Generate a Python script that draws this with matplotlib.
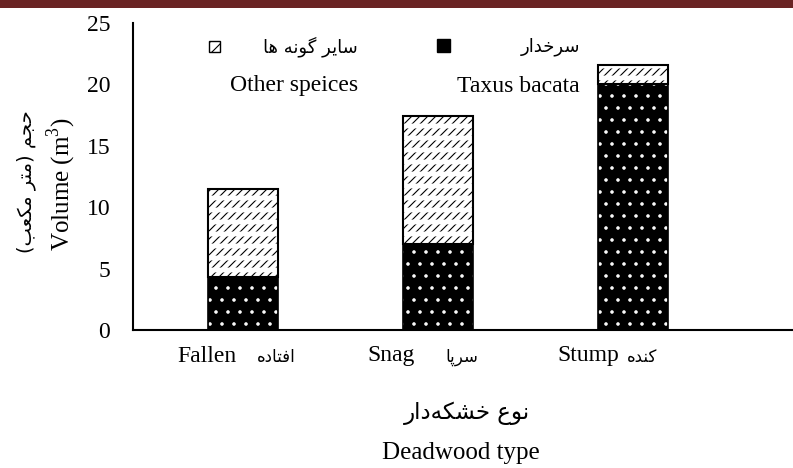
import matplotlib
matplotlib.use('Agg')
import matplotlib.pyplot as plt
from matplotlib.patches import Rectangle
import numpy as np

# data
types_en = ['Fallen', 'Snag', 'Stump']
types_fa = ['افتاده', 'سرپا', 'کنده']
taxus = [4.3, 7.0, 20.0]
other = [7.2, 10.4, 1.6]
y_ticks = [0, 5, 10, 15, 20, 25]

# minimal persian shaping (matplotlib has no bidi / joining)
FORMS = {
    'ا': ('\uFE8D', '\uFE8E', None, None),
    'ب': ('\uFE8F', '\uFE90', '\uFE91', '\uFE92'),
    'پ': ('\uFB56', '\uFB57', '\uFB58', '\uFB59'),
    'ت': ('\uFE95', '\uFE96', '\uFE97', '\uFE98'),
    'ج': ('\uFE9D', '\uFE9E', '\uFE9F', '\uFEA0'),
    'ح': ('\uFEA1', '\uFEA2', '\uFEA3', '\uFEA4'),
    'خ': ('\uFEA5', '\uFEA6', '\uFEA7', '\uFEA8'),
    'د': ('\uFEA9', '\uFEAA', None, None),
    'ر': ('\uFEAD', '\uFEAE', None, None),
    'س': ('\uFEB1', '\uFEB2', '\uFEB3', '\uFEB4'),
    'ش': ('\uFEB5', '\uFEB6', '\uFEB7', '\uFEB8'),
    'ع': ('\uFEC9', '\uFECA', '\uFECB', '\uFECC'),
    'ف': ('\uFED1', '\uFED2', '\uFED3', '\uFED4'),
    'ک': ('\uFB8E', '\uFB8F', '\uFB90', '\uFB91'),
    'گ': ('\uFB92', '\uFB93', '\uFB94', '\uFB95'),
    'م': ('\uFEE1', '\uFEE2', '\uFEE3', '\uFEE4'),
    'ن': ('\uFEE5', '\uFEE6', '\uFEE7', '\uFEE8'),
    'ه': ('\uFEE9', '\uFEEA', '\uFEEB', '\uFEEC'),
    'و': ('\uFEED', '\uFEEE', None, None),
    'ی': ('\uFBFC', '\uFBFD', '\uFBFE', '\uFBFF'),
}
MIRROR = {'(': ')', ')': '('}


def fa(s):
    out = []
    n = len(s)
    for i, c in enumerate(s):
        if c not in FORMS:
            if c != '\u200c':
                out.append(MIRROR.get(c, c))
            continue
        prev = s[i - 1] if i > 0 else ''
        nxt = s[i + 1] if i < n - 1 else ''
        jp = prev in FORMS and FORMS[prev][2] is not None
        jn = nxt in FORMS and FORMS[c][2] is not None
        iso, fin, ini, med = FORMS[c]
        if jp and jn:
            out.append(med)
        elif jp:
            out.append(fin)
        elif jn:
            out.append(ini)
        else:
            out.append(iso)
    return ''.join(out[::-1])


DPI = 72
W, H = 793, 468


def pt(v):
    # sizes were tuned for 100 dpi
    return v * 100 / DPI


serif = 'Liberation Serif'
arab = 'DejaVu Sans'
plt.rcParams['mathtext.fontset'] = 'custom'
plt.rcParams['mathtext.rm'] = serif
plt.rcParams['hatch.linewidth'] = pt(0.8)

fig = plt.figure(figsize=(W / DPI, H / DPI), dpi=DPI)
ax = fig.add_axes([133 / W, 1 - 330 / H, 1 - 133 / W, (330 - 23) / H])

x = np.arange(len(types_en))
bw = 0.36

# Taxus (black with white dots)
ax.bar(x, taxus, bw, color='black', edgecolor='white', hatch='.', linewidth=0)
ax.bar(x, taxus, bw, fill=False, edgecolor='black', linewidth=pt(1.2))
# other species (white with rows of diagonal dashes)
ax.bar(x, other, bw, bottom=taxus, color='white', edgecolor='black', hatch='///', linewidth=0)
stripes = ax.bar(x, other, bw, bottom=taxus, fill=False, edgecolor='white', hatch='-', linewidth=0)
for p in stripes:
    if hasattr(p, 'set_hatch_linewidth'):
        p.set_hatch_linewidth(pt(3.5))
ax.bar(x, other, bw, bottom=taxus, fill=False, edgecolor='black', linewidth=pt(1.5))

ax.set_xlim(-0.564, 2.82)
ax.set_ylim(0, 25)
ax.set_yticks(y_ticks)
ax.set_yticklabels([str(t) for t in y_ticks], fontsize=pt(17), family=serif)
ax.tick_params(axis='y', length=0, pad=pt(16.5))
ax.set_xticks([])
for s in ['top', 'right']:
    ax.spines[s].set_visible(False)
ax.spines['left'].set_linewidth(pt(1.5))
ax.spines['bottom'].set_linewidth(pt(1.5))

# x category labels
en_off = [-36, -47, -45]
fa_off = [33, 24, 9]
for i in range(len(types_en)):
    px = 243 + 195 * i
    fig.text((px + en_off[i]) / W, 1 - 356 / H, types_en[i], fontsize=pt(17), family=serif,
             ha='center', va='center')
    fig.text((px + fa_off[i]) / W, 1 - 357 / H, fa(types_fa[i]), fontsize=pt(12), family=arab,
             ha='center', va='center')

fig.text(467 / W, 1 - 413 / H, fa('نوع خشکه\u200cدار'), fontsize=pt(16.5), family=arab,
         ha='center', va='center')
fig.text(461 / W, 1 - 453 / H, 'Deadwood type', fontsize=pt(18), family=serif,
         ha='center', va='center')

# y labels
fig.text(62 / W, 1 - 184 / H, r'Volume (m$^{\mathrm{3}}$)', fontsize=pt(18), family=serif,
         rotation=90, ha='center', va='center')
fig.text(26 / W, 1 - 182 / H, fa('حجم (متر مکعب)'), fontsize=pt(14), family=arab, rotation=90,
         ha='center', va='center')

# legend
fig.add_artist(Rectangle((209 / W, 1 - 52 / H), 11 / W, 11 / H, transform=fig.transFigure,
                         facecolor='white', edgecolor='black', hatch='//', linewidth=pt(1)))
fig.add_artist(Rectangle((437 / W, 1 - 52 / H), 13 / W, 13 / H, transform=fig.transFigure,
                         facecolor='black', edgecolor='black', linewidth=pt(1)))
fig.text(358 / W, 1 - 47 / H, fa('سایر گونه ها'), fontsize=pt(13), family=arab, ha='right', va='center')
fig.text(358 / W, 1 - 86 / H, 'Other speices', fontsize=pt(17), family=serif, ha='right', va='center')
fig.text(580 / W, 1 - 47 / H, fa('سرخدار'), fontsize=pt(13), family=arab, ha='right', va='center')
fig.text(580 / W, 1 - 86 / H, 'Taxus bacata', fontsize=pt(17), family=serif, ha='right', va='center')

# top band
fig.add_artist(Rectangle((0, 1 - 8 / H), 1, 8 / H, transform=fig.transFigure,
                         facecolor='#6a2424', edgecolor='none'))

fig.savefig('out.png', dpi=DPI)
